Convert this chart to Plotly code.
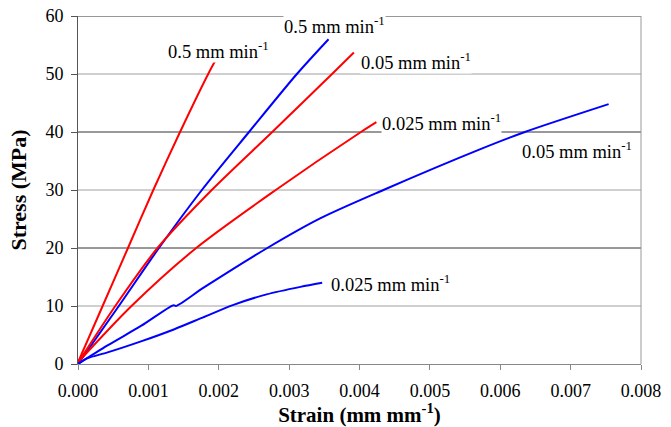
import plotly.graph_objects as go

# Stress-strain curves (strain in mm/mm, stress in MPa)
red_05_strain = [0.0, 0.00035, 0.00071, 0.00107, 0.00145, 0.00185, 0.00197]
red_05_stress = [0.3, 10.0, 20.0, 30.0, 40.0, 50.0, 52.7]

blue_05_strain = [0.0, 0.00058, 0.00115, 0.00176, 0.00243, 0.00311, 0.00356]
blue_05_stress = [0.0, 10.0, 20.0, 30.0, 40.0, 50.0, 56.0]

red_005_strain = [0.0, 0.00053, 0.00113, 0.0019, 0.00276, 0.00361, 0.00392]
red_005_stress = [0.2, 10.0, 20.0, 30.0, 40.0, 50.0, 53.7]

red_0025_strain = [0.0, 0.00076, 0.00168, 0.00281, 0.00402, 0.00424]
red_0025_stress = [0.3, 10.0, 20.0, 30.0, 40.0, 41.7]

blue_005_strain = [0.0, 0.00042, 0.0009, 0.00136, 0.00139, 0.00179, 0.00269, 0.00344,
                   0.00434, 0.00571, 0.00635, 0.00754]
blue_005_stress = [0.0, 3.2, 6.6, 10.15, 10.0, 13.2, 20.0, 25.1, 30.0, 37.0, 40.0, 44.8]

blue_0025_strain = [0.0, 0.000136, 0.00042, 0.000895, 0.00137, 0.00177, 0.00221, 0.00268,
                    0.00316, 0.00347]
blue_0025_stress = [0.0, 1.0, 2.0, 3.9, 6.0, 8.0, 10.2, 12.0, 13.3, 14.0]

# Curve labels: (text, strain, stress)
labels = [
    ("0.5 mm min<sup>-1</sup>", 0.001268, 54.1),
    ("0.5 mm min<sup>-1</sup>", 0.002915, 58.4),
    ("0.05 mm min<sup>-1</sup>", 0.00401, 52.2),
    ("0.025 mm min<sup>-1</sup>", 0.0043, 41.75),
    ("0.05 mm min<sup>-1</sup>", 0.00629, 36.9),
    ("0.025 mm min<sup>-1</sup>", 0.003574, 14.0),
]

x_ticks = [0.000, 0.001, 0.002, 0.003, 0.004, 0.005, 0.006, 0.007, 0.008]
y_ticks = [0, 10, 20, 30, 40, 50, 60]
grid_dark = [20, 40, 60]
grid_light = [10, 30, 50]

RED = "#ff0000"
BLUE = "#0000ff"
FONT = "Liberation Serif"

series = [
    (red_05_strain, red_05_stress, RED),
    (blue_05_strain, blue_05_stress, BLUE),
    (red_005_strain, red_005_stress, RED),
    (red_0025_strain, red_0025_stress, RED),
    (blue_005_strain, blue_005_stress, BLUE),
    (blue_0025_strain, blue_0025_stress, BLUE),
]

fig = go.Figure()
for xs, ys, col in series:
    fig.add_trace(go.Scatter(x=xs, y=ys, mode="lines",
                             line=dict(color=col, width=2, shape="spline", smoothing=0.8),
                             showlegend=False, hoverinfo="skip"))

shapes = []
for g in grid_light:
    shapes.append(dict(type="line", xref="paper", yref="y", x0=0, x1=1, y0=g, y1=g,
                       line=dict(color="#a0a0a0", width=1), layer="below"))
for g in grid_dark:
    shapes.append(dict(type="line", xref="paper", yref="y", x0=0, x1=1, y0=g, y1=g,
                       line=dict(color="#333333", width=1), layer="below"))
# right-hand frame edge
shapes.append(dict(type="line", xref="paper", yref="paper", x0=1, x1=1, y0=0, y1=1,
                   line=dict(color="#999999", width=1), layer="below"))

annotations = []
for text, x, y in labels:
    annotations.append(dict(text=text, x=x, y=y, xref="x", yref="y", showarrow=False,
                            xanchor="left", yanchor="middle", bgcolor="white",
                            borderpad=0, font=dict(family=FONT, size=18.5, color="black")))

fig.update_layout(
    width=671, height=427,
    margin=dict(l=78, r=30, t=16, b=63, autoexpand=False),
    paper_bgcolor="white", plot_bgcolor="white",
    shapes=shapes, annotations=annotations,
    font=dict(family=FONT, color="black"),
    xaxis=dict(
        range=[0, 0.008], tickvals=x_ticks, ticktext=[f"{v:.3f}" for v in x_ticks],
        showgrid=False, zeroline=False, showline=True, linecolor="#888888", linewidth=1,
        ticks="outside", ticklen=5, tickcolor="#888888", automargin=False,
        tickfont=dict(family=FONT, size=18, color="black"), ticklabelstandoff=5,
        title=dict(text="<b>Strain (mm mm<sup>-1</sup>)</b>", standoff=5,
                   font=dict(family=FONT, size=21, color="black")),
    ),
    yaxis=dict(
        range=[0, 60], tickvals=y_ticks,
        showgrid=False, zeroline=False, showline=True, linecolor="#555555", linewidth=1,
        ticks="outside", ticklen=6, tickcolor="#555555", automargin=False,
        tickfont=dict(family=FONT, size=18, color="black"), ticklabelstandoff=4,
        title=dict(text="<b>Stress (MPa)</b>", standoff=12,
                   font=dict(family=FONT, size=22, color="black")),
    ),
)

fig.write_html("out.html")
